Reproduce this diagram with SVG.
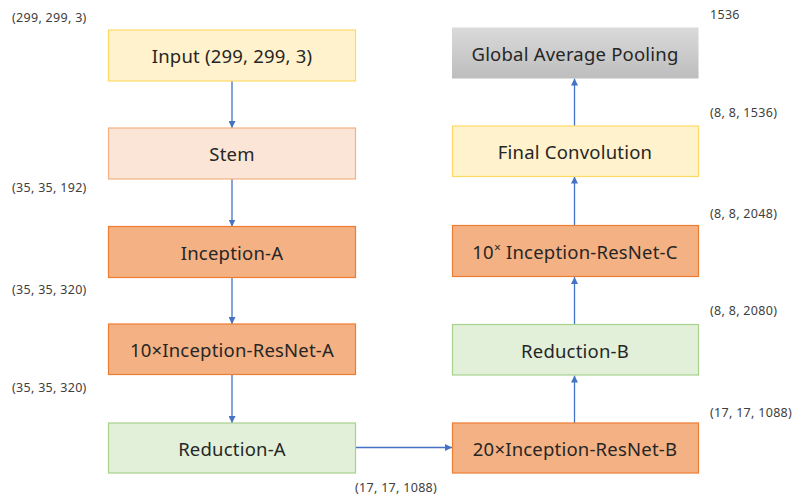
<svg xmlns="http://www.w3.org/2000/svg" width="797" height="500" viewBox="0 0 797 500">
<style>
.box{stroke-width:1.2}
.t{font-family:"Noto Sans","Open Sans","Liberation Sans",sans-serif;font-size:18.5px;fill:#262626;text-anchor:middle;dominant-baseline:central;letter-spacing:0.2px}
.l{font-family:"Noto Sans","Liberation Sans",sans-serif;font-size:12.5px;fill:#404040;letter-spacing:0.3px}
.c{stroke:#4472C4;stroke-width:1.3;fill:none;marker-end:url(#ah)}
.yel{fill:#FFF2CC;stroke:#FFD966}
.pink{fill:#FBE5D6;stroke:#F4B183}
.org{fill:#F4B183;stroke:#ED7D31}
.grn{fill:#E2F0D9;stroke:#A9D18E}
</style>
<defs>
<marker id="ah" viewBox="0 0 10 10" refX="10" refY="5" markerWidth="7" markerHeight="7" markerUnits="userSpaceOnUse" orient="auto">
<path d="M0,0 L10,5 L0,10 z" fill="#4472C4"/>
</marker>
<linearGradient id="gray" x1="0" y1="0" x2="0" y2="1">
<stop offset="0" stop-color="#DADADA"/>
<stop offset="1" stop-color="#BDBDBD"/>
</linearGradient>
</defs>
<rect width="797" height="500" fill="#fff"/>
<g id="connectors">
<line class="c" x1="232" y1="81" x2="232" y2="128"/>
<line class="c" x1="232" y1="179" x2="232" y2="226.5"/>
<line class="c" x1="232" y1="277.5" x2="232" y2="324"/>
<line class="c" x1="232" y1="374.5" x2="232" y2="423"/>
<line class="c" x1="355.5" y1="447.5" x2="452" y2="447.5"/>
<line class="c" x1="574.5" y1="423" x2="574.5" y2="375.5"/>
<line class="c" x1="574.5" y1="324" x2="574.5" y2="277"/>
<line class="c" x1="574.5" y1="225.5" x2="574.5" y2="176.5"/>
<line class="c" x1="574.5" y1="126" x2="574.5" y2="78.5"/>
</g>
<g id="input"><rect class="box yel" x="108.5" y="30" width="247" height="51"/><text class="t" x="232" y="55.5">Input (299, 299, 3)</text></g>
<g id="stem"><rect class="box pink" x="108.5" y="128" width="247" height="51"/><text class="t" x="232" y="153.5">Stem</text></g>
<g id="inceptionA"><rect class="box org" x="108.5" y="226.5" width="247" height="51"/><text class="t" x="232" y="252">Inception-A</text></g>
<g id="resnetA"><rect class="box org" x="108.5" y="324" width="247" height="50.5"/><text class="t" x="232" y="349.5">10×Inception-ResNet-A</text></g>
<g id="reductionA"><rect class="box grn" x="108.5" y="423" width="247" height="50"/><text class="t" x="232" y="448">Reduction-A</text></g>
<g id="resnetB"><rect class="box org" x="452.5" y="423" width="246" height="50"/><text class="t" x="575" y="448">20×Inception-ResNet-B</text></g>
<g id="reductionB"><rect class="box grn" x="452.5" y="324.5" width="246" height="50.5"/><text class="t" x="575" y="350">Reduction-B</text></g>
<g id="resnetC"><rect class="box org" x="452.5" y="225.5" width="246" height="51"/><text class="t" x="575" y="251">10<tspan font-size="12" dy="-4">×</tspan><tspan dy="4"> Inception-ResNet-C</tspan></text></g>
<g id="finalConv"><rect class="box yel" x="452.5" y="126" width="246" height="50.5"/><text class="t" x="575" y="151.5">Final Convolution</text></g>
<g id="gap"><rect x="452" y="27.5" width="246.5" height="51" fill="url(#gray)"/><text class="t" x="575" y="53">Global Average Pooling</text></g>
<g id="labels">
<text class="l" x="12" y="22">(299, 299, 3)</text>
<text class="l" x="12" y="192">(35, 35, 192)</text>
<text class="l" x="12" y="294">(35, 35, 320)</text>
<text class="l" x="12" y="392">(35, 35, 320)</text>
<text class="l" x="355" y="492">(17, 17, 1088)</text>
<text class="l" x="710" y="19">1536</text>
<text class="l" x="710" y="117">(8, 8, 1536)</text>
<text class="l" x="710" y="218">(8, 8, 2048)</text>
<text class="l" x="710" y="315">(8, 8, 2080)</text>
<text class="l" x="710" y="417">(17, 17, 1088)</text>
</g>
</svg>
